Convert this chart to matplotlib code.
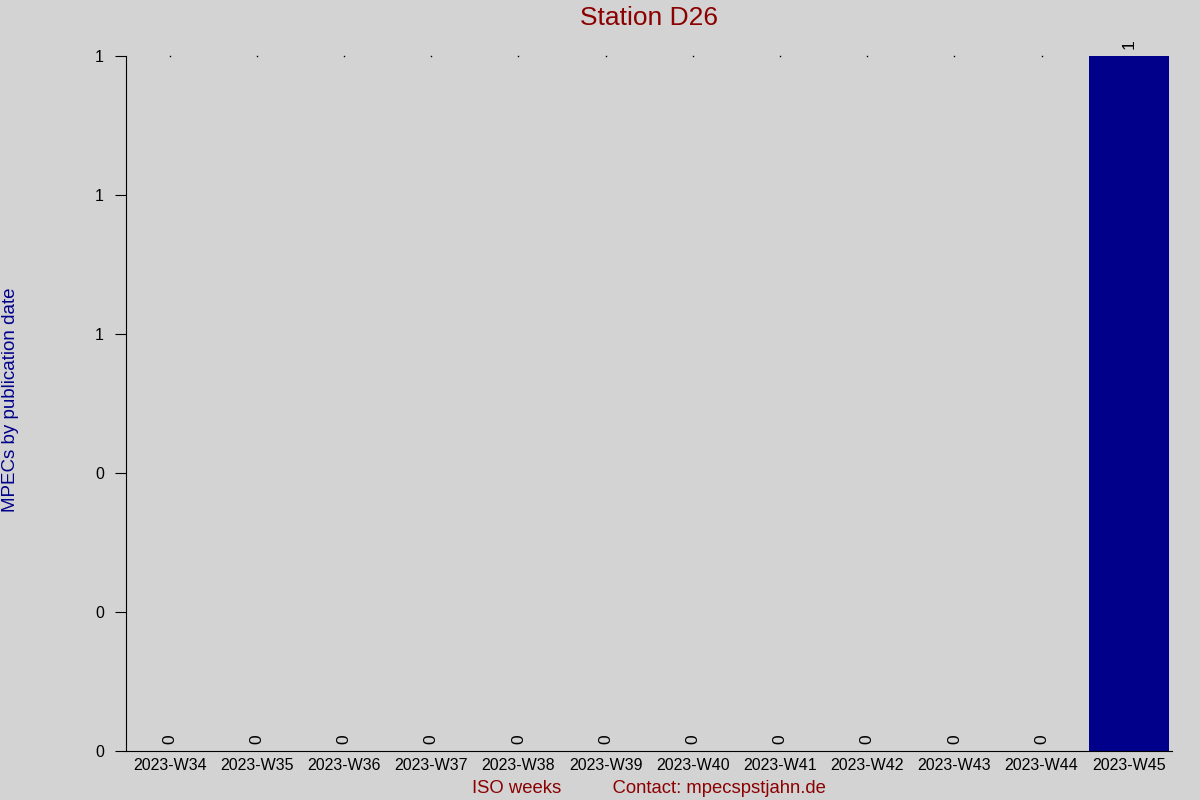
import matplotlib
matplotlib.use('Agg')
import matplotlib.pyplot as plt
import numpy as np
from matplotlib.ticker import FormatStrFormatter

plt.rcParams['font.family'] = ['Liberation Sans', 'DejaVu Sans']

semanas = ['2023-W34', '2023-W35', '2023-W36', '2023-W37', '2023-W38', '2023-W39',
           '2023-W40', '2023-W41', '2023-W42', '2023-W43', '2023-W44', '2023-W45']
mpecs = [0, 0, 0, 0, 0, 0, 0, 0, 0, 0, 0, 1]

fig = plt.figure(figsize=(12, 8), dpi=100, facecolor='lightgray')
ax = fig.add_axes([0.105, 0.061, 0.872, 0.869])
ax.set_facecolor('lightgray')

x = np.arange(len(semanas))
barras = ax.bar(x, mpecs, width=0.92, color='darkblue')
ax.bar_label(barras, labels=[str(v) for v in mpecs], rotation=90, padding=5, fontsize=12.5)

# pontinhos no topo das barras vazias
vals = np.array(mpecs)
ax.plot(x[vals == 0], np.full((vals == 0).sum(), vals.max()), 's', markersize=1,
        color='black', markeredgewidth=0, clip_on=False)

ax.set_xlim(-0.5, len(semanas) - 0.5)
ax.set_ylim(0, max(mpecs))
ax.set_yticks(np.linspace(0, max(mpecs), 6))
ax.yaxis.set_major_formatter(FormatStrFormatter('%.0f'))
ax.set_xticks(x)
ax.set_xticklabels(semanas, fontsize=11.5)
ax.tick_params(axis='x', length=0, pad=5)
ax.tick_params(axis='y', length=8, labelsize=11.5, pad=8)

ax.spines['top'].set_visible(False)
ax.spines['right'].set_visible(False)

ax.set_title('Station D26', color='darkred', fontsize=19, pad=22)
ax.set_xlabel('ISO weeks          Contact: mpecspstjahn.de', color='darkred', fontsize=13.3, labelpad=5)
fig.text(0.002, 0.5, 'MPECs by publication date', rotation=90, color='darkblue',
         fontsize=13.5, va='center', ha='left')

fig.savefig('out.png', dpi=100, facecolor='lightgray')
